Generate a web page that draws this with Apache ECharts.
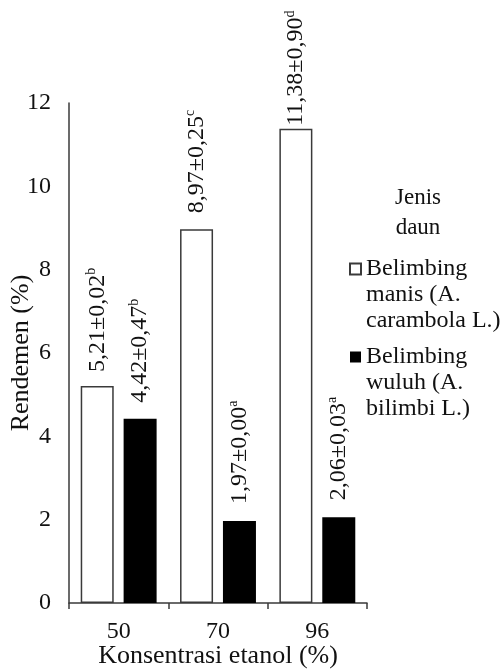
<!DOCTYPE html>
<html>
<head>
<meta charset="utf-8">
<script src="https://cdn.jsdelivr.net/npm/echarts@6/dist/echarts.min.js"></script>
<style>
  html, body { margin: 0; padding: 0; background: #fff; }
  #chart { width: 500px; height: 670px; }
</style>
</head>
<body>
<div id="chart"></div>
<script>
// Ethanol concentrations (%)
const categories = ['50', '70', '96'];

// Yield (rendemen, %) per leaf type
const manisValues = [5.21, 8.97, 11.38];
const manisSd = ['0,02', '0,25', '0,90'];
const manisLetters = ['b', 'c', 'd'];

const wuluhValues = [4.42, 1.97, 2.06];
const wuluhSd = ['0,47', '0,00', '0,03'];
const wuluhLetters = ['b', 'a', 'a'];

const seriesNames = [
  'Belimbing\nmanis (A.\ncarambola L.)',
  'Belimbing\nwuluh (A.\nbilimbi L.)'
];
const legendTitle = 'Jenis\ndaun';
const xAxisName = 'Konsentrasi etanol (%)';
const yAxisName = 'Rendemen (%)';

const FONT = 'Liberation Serif';
const TEXT = '#111';
const AXIS = '#3a3a3a';

// Legend marker: a square aligned with the first text line
const legendIcon = 'path://M0 0L0 0M0 78L0 78M0 7.5L11 7.5L11 18.5L0 18.5Z';

function fmt(v) {
  return v.toFixed(2).replace('.', ',');
}

function labelRich() {
  return {
    v: { fontFamily: FONT, fontSize: 24, lineHeight: 26, color: TEXT },
    s: { fontFamily: FONT, fontSize: 14, lineHeight: 14, color: TEXT, verticalAlign: 'top' }
  };
}

function barData(values, sds, letters, distances) {
  return values.map((v, i) => ({
    value: v,
    label: {
      distance: distances[i],
      formatter: '{v|' + fmt(v) + '±' + sds[i] + '}{s|' + letters[i] + '}'
    }
  }));
}

const baseLabel = {
  show: true,
  position: 'top',
  rotate: 90,
  align: 'left',
  verticalAlign: 'middle',
  rich: labelRich()
};

const chart = echarts.init(document.getElementById('chart'), null, { renderer: 'canvas' });

chart.setOption({
  animation: false,
  backgroundColor: '#fff',
  textStyle: { fontFamily: FONT, color: TEXT },
  grid: { left: 69, right: 133, top: 103, bottom: 67, containLabel: false, outerBoundsMode: 'none' },
  graphic: [{
    type: 'text',
    x: 418,
    y: 213,
    style: {
      text: legendTitle,
      fontFamily: FONT,
      fontSize: 23,
      lineHeight: 30,
      fill: TEXT,
      align: 'center',
      verticalAlign: 'middle'
    }
  }],
  legend: {
    orient: 'vertical',
    left: 349,
    top: 255,
    padding: 0,
    itemGap: 9,
    itemWidth: 11,
    itemHeight: 78,
    icon: legendIcon,
    selectedMode: false,
    textStyle: { fontFamily: FONT, fontSize: 24, lineHeight: 26, color: TEXT },
    data: seriesNames
  },
  xAxis: {
    type: 'category',
    data: categories,
    name: xAxisName,
    nameLocation: 'middle',
    nameGap: 40,
    nameMoveOverlap: false,
    nameTextStyle: { fontFamily: FONT, fontSize: 26, color: TEXT },
    axisLine: { lineStyle: { color: AXIS, width: 1.5 } },
    axisTick: { show: true, length: 6, lineStyle: { color: AXIS, width: 1.5 } },
    axisLabel: { fontFamily: FONT, fontSize: 24, color: TEXT, margin: 17 }
  },
  yAxis: {
    type: 'value',
    min: 0,
    max: 12,
    interval: 2,
    name: yAxisName,
    nameLocation: 'middle',
    nameRotate: 90,
    nameGap: 35,
    nameMoveOverlap: false,
    nameTextStyle: { fontFamily: FONT, fontSize: 26, color: TEXT },
    axisLine: { show: true, lineStyle: { color: AXIS, width: 1.5 } },
    axisTick: { show: false },
    splitLine: { show: false },
    axisLabel: { fontFamily: FONT, fontSize: 24, color: TEXT, margin: 18 }
  },
  series: [
    {
      name: seriesNames[0],
      type: 'bar',
      barWidth: 33,
      barGap: '30%',
      itemStyle: { color: '#fff', borderColor: AXIS, borderWidth: 1.5 },
      label: baseLabel,
      data: barData(manisValues, manisSd, manisLetters, [14, 16, 3])
    },
    {
      name: seriesNames[1],
      type: 'bar',
      barWidth: 33,
      itemStyle: { color: '#000', borderColor: '#000', borderWidth: 0 },
      label: baseLabel,
      data: barData(wuluhValues, wuluhSd, wuluhLetters, [16, 17, 17])
    }
  ]
});
</script>
</body>
</html>
